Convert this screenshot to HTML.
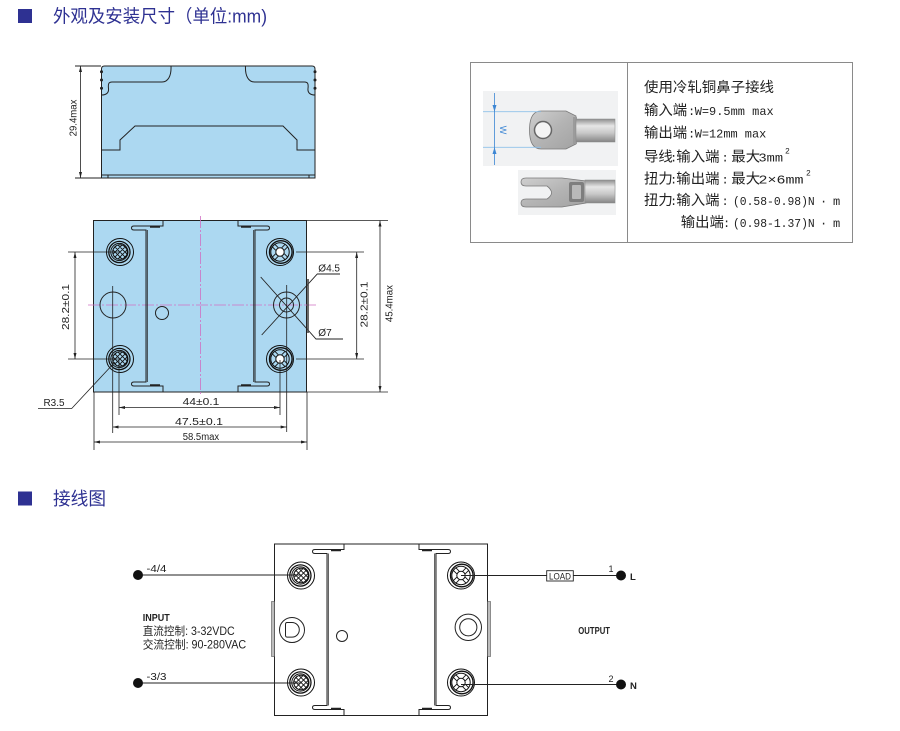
<!DOCTYPE html>
<html><head><meta charset="utf-8">
<style>
html,body{margin:0;padding:0;background:#fff;}
svg{display:block;}
.cj{font-family:"Liberation Sans","Noto Sans CJK SC",sans-serif;}
.mn{font-family:"Liberation Mono","Noto Sans CJK SC",monospace;}
.dm{font-family:"Liberation Sans","Noto Sans CJK SC",sans-serif;font-size:10px;fill:#222;}
</style></head>
<body>
<svg xmlns="http://www.w3.org/2000/svg" width="900" height="731" viewBox="0 0 900 731">
<defs>
<marker id="ar" viewBox="0 0 8 4" refX="8" refY="2" markerWidth="6" markerHeight="3" markerUnits="userSpaceOnUse" orient="auto-start-reverse"><path d="M0,0 L8,2 L0,4 Z" fill="#222"/></marker>
<clipPath id="cc"><circle r="7.3"/></clipPath>
<linearGradient id="gb" x1="0" y1="0" x2="0" y2="1">
<stop offset="0" stop-color="#8e8e8e"/><stop offset="0.3" stop-color="#e6e6e6"/><stop offset="0.6" stop-color="#c9c9c9"/><stop offset="1" stop-color="#858585"/></linearGradient>
<linearGradient id="gt" x1="0" y1="0" x2="1" y2="1">
<stop offset="0" stop-color="#cfcfcf"/><stop offset="0.5" stop-color="#b4b4b4"/><stop offset="1" stop-color="#a2a2a2"/></linearGradient>
<g id="tin" fill="none" stroke="#111">
<circle r="13.5" stroke-width="1"/>
<circle cx="-0.6" r="10.6" stroke-width="1.3"/>
<circle cx="-0.6" r="8.6" stroke-width="1"/>
<g clip-path="url(#cc)" stroke-width="0.9"><g transform="rotate(45)">
<path d="M-7,-9 V9 M-3.5,-9 V9 M0,-9 V9 M3.5,-9 V9 M7,-9 V9 M-9,-7 H9 M-9,-3.5 H9 M-9,0 H9 M-9,3.5 H9 M-9,7 H9"/></g></g>
<circle r="7.3" stroke-width="1"/>
</g>
<g id="tout" fill="none" stroke="#111">
<circle r="13.5" stroke-width="1"/>
<circle cx="0.8" r="11.3" stroke-width="1.4"/>
<circle r="9.2" stroke-width="1"/>
<g transform="rotate(45)" stroke-width="0.9">
<path d="M-1.8,4 V9 M1.8,4 V9 M-1.8,-4 V-9 M1.8,-4 V-9 M4,-1.8 H9 M4,1.8 H9 M-4,-1.8 H-9 M-4,1.8 H-9"/></g>
<circle r="4.2" fill="#fff" stroke-width="1"/>
</g>
<g id="rail" fill="none" stroke="#222">
<path d="M163,220.5 V226 H134 Q131.5,226 131.5,228 Q131.5,230 134,230 H146 V382 H134 Q131.5,382 131.5,384 Q131.5,386 134,386 H163 V391.5" stroke-width="1"/>
<path d="M147.3,230 V382" stroke-width="0.8"/>
<path d="M150,226.8 H160 M150,385.2 H160" stroke-width="1.8"/>
</g>
</defs>

<rect x="0" y="0" width="900" height="731" fill="#fff"/>

<!-- Headers -->
<rect x="18" y="9" width="14" height="14" fill="#2e3192"/>
<text x="53" y="22.5" class="cj" font-size="18" fill="#2e3192" textLength="214" lengthAdjust="spacingAndGlyphs">外观及安装尺寸（单位:mm)</text>
<rect x="18" y="491.5" width="14" height="14" fill="#2e3192"/>
<text x="53" y="505" class="cj" font-size="18" fill="#2e3192" textLength="53" lengthAdjust="spacingAndGlyphs">接线图</text>

<!-- Side view -->
<g stroke="#222" stroke-width="1" fill="none">
<path d="M101.5,178 V69 Q101.5,66 104.5,66 H312 Q315,66 315,69 V178 Z" fill="#acd8f1"/>
<path d="M101.5,95 C106,95 109,93 108.5,88.5 C108,84 108.5,82 112,82 H162 C168,82 171.5,76 171,66"/>
<path d="M315,95 C310.5,95 307.5,93 308,88.5 C308.5,84 308,82 304.5,82 H254.5 C248.5,82 245,76 245.5,66"/>
<path d="M101.5,150 H120 V140 L135,126 H283 L297,140 V150 H315"/>
<path d="M101.5,175 H315 M108,175 V178 M309,175 V178"/>
<path d="M75,66 H101 M75,178 H101"/>
<line x1="80.5" y1="66" x2="80.5" y2="178" stroke-width="0.8" marker-start="url(#ar)" marker-end="url(#ar)"/>
</g>
<g fill="#222">
<circle cx="101.5" cy="71.7" r="1.5"/><circle cx="101.5" cy="80" r="1.5"/><circle cx="101.5" cy="88.3" r="1.5"/>
<circle cx="315" cy="71.7" r="1.5"/><circle cx="315" cy="80" r="1.5"/><circle cx="315" cy="88.3" r="1.5"/>
</g>
<text class="dm" transform="translate(76.5,118) rotate(-90)" text-anchor="middle" textLength="36.7" lengthAdjust="spacingAndGlyphs">29.4max</text>

<!-- Top view -->
<rect x="93.5" y="220.5" width="213" height="171.5" fill="#acd8f1" stroke="#222"/>
<path d="M200.5,216 V396 M88,305 H316" stroke="#d070c4" stroke-width="0.8" stroke-dasharray="12,2,2,2" fill="none"/>
<use href="#rail"/>
<use href="#rail" transform="translate(401,0) scale(-1,1)"/>
<use href="#tin" x="120" y="252"/>
<use href="#tin" x="120" y="359"/>
<use href="#tout" x="280" y="252"/>
<use href="#tout" x="280" y="359"/>
<g fill="none" stroke="#222">
<circle cx="162" cy="313" r="6.5"/>
<circle cx="113" cy="305" r="13"/>
<circle cx="286.5" cy="305" r="13"/>
<circle cx="286.5" cy="305" r="7"/>
<path d="M260.7,277 L316,339 H343 M261.7,335 L317.3,274 H340" stroke-width="0.9"/>
<path d="M308,279 V333" stroke="#444" stroke-width="1.6"/>
<!-- extension lines -->
<path d="M68,252 H120 M68,359 H120 M112.7,286 V433 M119,360 V415 M94,392 V450 M307,392 V450 M280,360 V415 M286.7,285 V432 M296,252 H364 M296,359 H364 M307,220.5 H388 M307,392 H388 M115,362 L71.7,408.5 H38" stroke-width="0.8"/>
<line x1="75" y1="252" x2="75" y2="359" stroke-width="0.8" marker-start="url(#ar)" marker-end="url(#ar)"/>
<line x1="119" y1="407.5" x2="280" y2="407.5" stroke-width="0.8" marker-start="url(#ar)" marker-end="url(#ar)"/>
<line x1="112.7" y1="427" x2="286.7" y2="427" stroke-width="0.8" marker-start="url(#ar)" marker-end="url(#ar)"/>
<line x1="94" y1="442" x2="307" y2="442" stroke-width="0.8" marker-start="url(#ar)" marker-end="url(#ar)"/>
<line x1="356.7" y1="252" x2="356.7" y2="359" stroke-width="0.8" marker-start="url(#ar)" marker-end="url(#ar)"/>
<line x1="380" y1="220.5" x2="380" y2="392" stroke-width="0.8" marker-start="url(#ar)" marker-end="url(#ar)"/>
</g>
<text class="dm" x="182.7" y="405" textLength="36.6" lengthAdjust="spacingAndGlyphs">44±0.1</text>
<text class="dm" x="175" y="425" textLength="48" lengthAdjust="spacingAndGlyphs">47.5±0.1</text>
<text class="dm" x="182.7" y="440" textLength="36.5" lengthAdjust="spacingAndGlyphs">58.5max</text>
<text class="dm" x="43.5" y="406" textLength="21" lengthAdjust="spacingAndGlyphs">R3.5</text>
<text class="dm" x="318.3" y="271.7" textLength="21.7" lengthAdjust="spacingAndGlyphs">Ø4.5</text>
<text class="dm" x="318.3" y="336" textLength="13.4" lengthAdjust="spacingAndGlyphs">Ø7</text>
<text class="dm" transform="translate(68.8,307) rotate(-90)" text-anchor="middle" textLength="46" lengthAdjust="spacingAndGlyphs">28.2±0.1</text>
<text class="dm" transform="translate(367.3,304.5) rotate(-90)" text-anchor="middle" textLength="46" lengthAdjust="spacingAndGlyphs">28.2±0.1</text>
<text class="dm" transform="translate(392.5,303.6) rotate(-90)" text-anchor="middle" textLength="37" lengthAdjust="spacingAndGlyphs">45.4max</text>

<!-- Table -->
<rect x="470.5" y="62.5" width="382" height="180" fill="none" stroke="#8a8a8a" stroke-width="1"/>
<line x1="627.5" y1="62.5" x2="627.5" y2="242.5" stroke="#8a8a8a" stroke-width="1"/>
<!-- ring lug -->
<rect x="483" y="91" width="135" height="75" fill="#f1f2f3"/>
<path d="M541,111 H566 L576,116 V144 L566,149 H541 Q529.5,149 529.5,130 Q529.5,111 541,111 Z" fill="url(#gt)" stroke="#7a7a7a" stroke-width="0.8"/>
<circle cx="543" cy="130" r="8.5" fill="#f4f4f4" stroke="#666" stroke-width="1.5"/>
<rect x="573" y="117" width="4" height="27" fill="#9b9b9b"/>
<rect x="576" y="119" width="39" height="23" fill="url(#gb)" stroke="#888" stroke-width="0.5"/>
<path d="M483,111.7 H541 M483,147.3 H541" stroke="#8fc1ea" stroke-width="0.8"/>
<line x1="494.5" y1="93" x2="494.5" y2="165" stroke="#3c86d4" stroke-width="0.8"/>
<polygon points="492.5,105 496.5,105 494.5,111.7" fill="#3c86d4"/>
<polygon points="492.5,154 496.5,154 494.5,147.3" fill="#3c86d4"/>
<text transform="translate(500,130) rotate(90)" text-anchor="middle" font-family="Liberation Sans,sans-serif" font-size="9" fill="#3c86d4">W</text>
<!-- fork lug -->
<rect x="518" y="170" width="98" height="45" fill="#f1f2f3"/>
<path d="M526,178 H562 L586,181 V203 L562,207 H526 Q521,207 521,203 Q521,199 526,199 H547 Q556,193 547,186 H526 Q521,186 521,182 Q521,178 526,178 Z" fill="url(#gt)" stroke="#7a7a7a" stroke-width="0.8"/>
<rect x="569" y="182" width="15" height="20" rx="2" fill="#7e7e7e"/>
<rect x="572" y="185" width="9" height="14" rx="1" fill="#b9b9b9"/>
<rect x="585" y="180" width="30" height="23" fill="url(#gb)" stroke="#888" stroke-width="0.5"/>
<!-- table text -->
<g class="cj" font-size="14.4" fill="#222">
<text x="644" y="92" textLength="130" lengthAdjust="spacingAndGlyphs">使用冷轧铜鼻子接线</text>
<text x="644" y="115">输入端</text>
<text x="644" y="137.5">输出端</text>
<text x="644" y="161.5">导线</text><text x="676.3" y="161.5">输入端</text><text x="731.3" y="161.5">最大</text>
<text x="644" y="183.5">扭力</text><text x="676.3" y="183.5">输出端</text><text x="731.3" y="183.5">最大</text>
<text x="644" y="205">扭力</text><text x="676.3" y="205">输入端</text>
<text x="680.7" y="227">输出端</text>
</g>
<g class="mn" font-size="12" fill="#222">
<text x="688" y="115">:</text><text x="694.7" y="115" textLength="79" lengthAdjust="spacingAndGlyphs">W=9.5mm max</text>
<text x="688" y="137.5">:</text><text x="694.7" y="137.5" textLength="71.6" lengthAdjust="spacingAndGlyphs">W=12mm max</text>
<text x="670" y="161.5">:</text><text x="721.5" y="161.5">:</text><text x="758.5" y="161.5" textLength="24.5" lengthAdjust="spacingAndGlyphs">3mm</text><text x="785" y="153.5" font-size="8">2</text>
<text x="670" y="183.5">:</text><text x="721.5" y="183.5">:</text><text x="758.5" y="183.5" textLength="45" lengthAdjust="spacingAndGlyphs">2×6mm</text><text x="806" y="175.5" font-size="8">2</text>
<text x="670" y="205">:</text><text x="721.5" y="205">:</text><text x="733" y="205" textLength="81.7" lengthAdjust="spacingAndGlyphs">(0.58-0.98)N</text><text x="820" y="205">·</text><text x="833" y="205">m</text>
<text x="723" y="227">:</text><text x="733" y="227" textLength="81.7" lengthAdjust="spacingAndGlyphs">(0.98-1.37)N</text><text x="820" y="227">·</text><text x="833" y="227">m</text>
</g>

<!-- Wiring diagram -->
<g transform="translate(181,323.5)">
<rect x="93.5" y="220.5" width="213" height="171.5" fill="none" stroke="#222"/>
<g stroke-width="1.3"><use href="#rail"/></g>
<use href="#rail" transform="translate(401,0) scale(-1,1)"/>
<use href="#tin" x="120" y="252"/>
<use href="#tin" x="120" y="359"/>
<use href="#tout" x="280" y="252"/>
<use href="#tout" x="280" y="359"/>
<circle cx="161" cy="312.5" r="5.5" fill="none" stroke="#222"/>
</g>
<rect x="271.5" y="601.5" width="3" height="55" fill="#bdbdbd" stroke="#555" stroke-width="0.6"/>
<rect x="487.5" y="601.5" width="3" height="55" fill="#bdbdbd" stroke="#555" stroke-width="0.6"/>
<g fill="none" stroke="#222">
<circle cx="292" cy="630" r="12.5"/>
<path d="M287,622.5 H292 A7.3,7.3 0 0 1 292,637.1 H287 Q285.5,637.1 285.5,635 V624.5 Q285.5,622.5 287,622.5 Z"/>
<circle cx="468.3" cy="627.3" r="13.2"/>
<circle cx="468.3" cy="627.3" r="8.6"/>
<path d="M138,575 H300 M138,683 H300 M461,575.5 H546.7 M573.3,575.5 H621 M461,684.5 H621" stroke-width="0.9"/>
<rect x="546.7" y="570.7" width="26.6" height="10.3" stroke-width="0.9"/>
</g>
<g fill="#111">
<circle cx="138" cy="575" r="5"/><circle cx="138" cy="683" r="5"/>
<circle cx="621" cy="575.5" r="5"/><circle cx="621" cy="684.5" r="5"/>
</g>
<g class="cj" fill="#222" font-size="10">
<text x="146.5" y="572" textLength="20" lengthAdjust="spacingAndGlyphs">-4/4</text>
<text x="146.5" y="680" textLength="20" lengthAdjust="spacingAndGlyphs">-3/3</text>
<text x="142.7" y="621" font-weight="bold" textLength="27" lengthAdjust="spacingAndGlyphs">INPUT</text>
<text x="142.7" y="635" font-size="11.5" textLength="92" lengthAdjust="spacingAndGlyphs">直流控制: 3-32VDC</text>
<text x="142.7" y="648.5" font-size="11.5" textLength="103.5" lengthAdjust="spacingAndGlyphs">交流控制: 90-280VAC</text>
<text x="549" y="579.5" font-size="9" textLength="22" lengthAdjust="spacingAndGlyphs">LOAD</text>
<text x="608.5" y="572" font-size="9">1</text>
<text x="608.5" y="682" font-size="9">2</text>
<text x="630" y="580" font-weight="bold" font-size="9.5">L</text>
<text x="630" y="689" font-weight="bold" font-size="9.5">N</text>
<text x="578.3" y="634" font-weight="bold" textLength="31.7" lengthAdjust="spacingAndGlyphs">OUTPUT</text>
</g>
</svg>
</body></html>
